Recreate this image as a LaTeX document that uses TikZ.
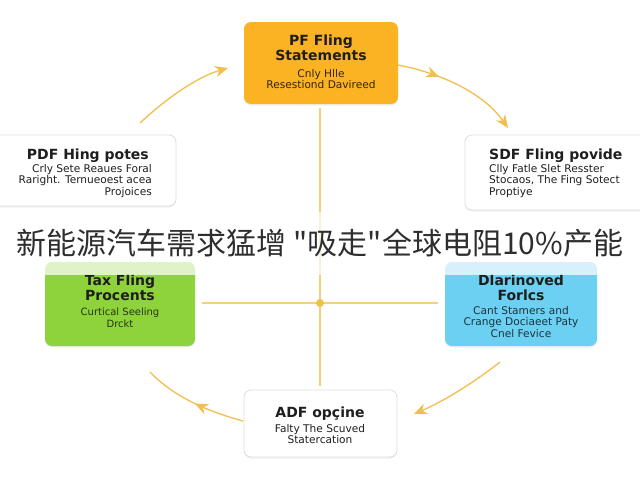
\documentclass[tikz,border=0pt]{standalone}
\usepackage{fontspec}
\setmainfont{DejaVu Sans}
\newfontfamily\cjk{Noto Sans CJK SC}
\usetikzlibrary{arrows.meta,decorations.markings,shadows}
\definecolor{gold}{HTML}{F2BF4C}
\definecolor{linegold}{HTML}{F4CF7C}
\definecolor{orangebox}{HTML}{FCB323}
\definecolor{greenbox}{HTML}{8FD33C}
\definecolor{bluebox}{HTML}{6CD0F2}
\definecolor{graybd}{HTML}{DEDEDE}
\definecolor{txt}{HTML}{1E1E1E}
\tikzset{
  x=1pt,y=-1pt,
  boxbase/.style={rounded corners=7pt, drop shadow={shadow xshift=0pt,shadow yshift=-1.5pt,opacity=0.12}},
  whitebox/.style={boxbase, draw=graybd, line width=0.8pt, fill=white},
  ttl/.style={font=\bfseries\fontsize{14}{15}\selectfont, text=txt, inner sep=0pt},
  sub/.style={font=\fontsize{10.6}{11.8}\selectfont, inner sep=0pt},
  arc/.style={draw=gold, line width=1.3pt},
  tipend/.style={-{Stealth[length=13pt,width=11pt]}},
  midtip/.style={postaction={decorate}, decoration={markings, mark=at position #1 with {\arrow{Stealth[length=13pt,width=11pt]}}}},
  crossline/.style={draw=linegold, line width=1.3pt}
}
\begin{document}
\begin{tikzpicture}
\useasboundingbox (0,0) rectangle (640,480);
\fill[white] (0,0) rectangle (640,480);
% cross
\coordinate (vt) at (320,108);
\coordinate (vb) at (320,386);
\coordinate (hl) at (202,303);
\coordinate (hr) at (438,303);
\draw[crossline] (vt) -- (vb);
\draw[crossline] (hl) -- (hr);
\node[circle, fill=gold, minimum size=8pt, inner sep=0pt] (ctr) at (320,303) {};
% boxes
\path[boxbase, fill=orangebox] (244,22) rectangle (398,104);
\node (top) at (321,63) {};
\node[ttl, align=center] (topt) at (321,48) {PF Fling\\Statements};
\node[sub, align=center, text=black!80!orangebox] (tops) at (321,79) {Cnly Hlle\\Resestiond Davireed};

\path[whitebox] (-10,135) rectangle (176,206);
\node (lu) at (90,170) {};
\node[ttl, anchor=east] (lut) at (149,156) {PDF Hing potes};
\node[sub, align=right, anchor=east, text=txt] (lus) at (152,181) {Crly Sete Reaues Foral\\Raright. Ternueoest acea\\Projoices};

\path[whitebox] (465,135) rectangle (650,210);
\node (ru) at (550,170) {};
\node[ttl, anchor=west] (rut) at (489,156) {SDF Fling povide};
\node[sub, align=left, anchor=west, text=txt] (rus) at (489,181) {Clly Fatle Slet Resster\\Stocaos, The Fing Sotect\\Proptiye};

\path[boxbase, fill=greenbox] (45,262) rectangle (195,346);
\node (gb) at (120,304) {};
\node[ttl, align=center] (gbt) at (120,288) {Tax Fling\\Procents};
\node[sub, font=\fontsize{10}{11.5}\selectfont, align=center, text=black!75!greenbox] (gbs) at (120,318) {Curtical Seeling\\Drckt};

\path[boxbase, fill=bluebox] (445,262) rectangle (597,346);
\node (bb) at (521,304) {};
\node[ttl, align=center] (bbt) at (521,288) {Dlarinoved\\Forlcs};
\node[sub, align=center, text=black!75!bluebox] (bbs) at (521,322) {Cant Stamers and\\Crange Dociaeet Paty\\Cnel Fevice};

\path[whitebox] (244,390) rectangle (397,457);
\node (bot) at (320,424) {};
\node[ttl] (bott) at (320,414) {ADF opçine};
\node[sub, align=center, text=txt] (bots) at (320,434) {Falty The Scuved\\Statercation};
% arcs
\coordinate (a1s) at (140,123);
\coordinate (a1e) at (228,68);
\draw[arc, tipend] (a1s) .. controls (170,95) and (200,76) .. (a1e);
\coordinate (a2s) at (398,65);
\coordinate (a2e) at (508,128);
\draw[arc, tipend, midtip=0.33] (a2s) .. controls (445,74) and (485,95) .. (a2e);
\coordinate (a3s) at (243,421);
\coordinate (a3e) at (150,372);
\draw[arc, midtip=0.48] (a3s) .. controls (210,412) and (175,398) .. (a3e);
\coordinate (a4s) at (500,362);
\coordinate (a4e) at (414,414);
\draw[arc, tipend] (a4s) .. controls (472,384) and (442,402) .. (a4e);
% title band
\fill[white, opacity=0.72] (0,212) rectangle (640,275);
\node[font=\cjk\fontsize{30}{32}\selectfont, text=black!82, inner sep=0pt] (title) at (320,243) {新能源汽车需求猛增 "吸走"全球电阻10\%产能};
\end{tikzpicture}
\end{document}
